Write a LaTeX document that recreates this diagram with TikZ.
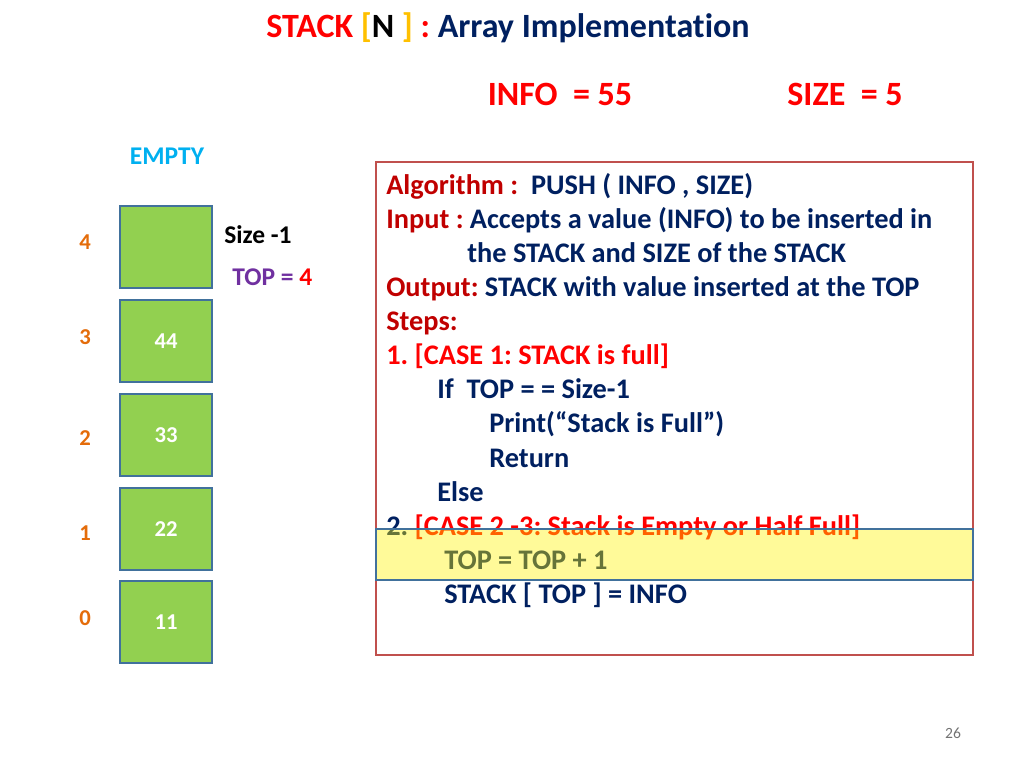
\documentclass[tikz,border=0pt]{standalone}
\usepackage{fontspec}
\setmainfont[Ligatures=NoCommon]{Carlito}
\frenchspacing
\usetikzlibrary{positioning}

\definecolor{navy}{HTML}{002060}
\definecolor{darkred}{HTML}{C00000}
\definecolor{brightred}{HTML}{FF0000}
\definecolor{gold}{HTML}{FFC000}
\definecolor{cellgreen}{HTML}{92D050}
\definecolor{cellborder}{HTML}{41719C}
\definecolor{framered}{HTML}{C0504D}
\definecolor{idxorange}{HTML}{E46C0A}
\definecolor{skyblue}{HTML}{00B0F0}
\definecolor{toppurple}{HTML}{7030A0}

\begin{document}
\begin{tikzpicture}[%
    x=0.0248cm, y=-0.0248cm,    % one unit = one pixel of the slide
    ]

\tikzset{
    txt/.style={inner sep=0pt, text=navy, font={\bfseries\fontsize{20}{24}\selectfont}},
    line/.style={txt, anchor=base west},
    head/.style={txt, anchor=base, text=brightred, font={\bfseries\fontsize{24}{29}\selectfont}},
    cell/.style={draw=cellborder, line width=1.6pt, fill=cellgreen, inner sep=0pt,
                 minimum width=2.27cm, minimum height=2.05cm,
                 text=white, font={\bfseries\fontsize{16}{19}\selectfont}},
    idx/.style={inner sep=0pt, text=idxorange, font={\bfseries\fontsize{16}{19}\selectfont}},
    note/.style={inner sep=0pt, anchor=base west, font={\bfseries\fontsize{18}{21}\selectfont}},
    frame/.style={draw=framered, line width=1.4pt},
    hilite/.style={draw=cellborder, line width=1.6pt, fill=yellow, fill opacity=0.4}
}

\useasboundingbox (0,0) rectangle (1024,768);

%% Title
\node [txt, anchor=base, font={\bfseries\fontsize{24}{29}\selectfont}] (title) at (508,38)
    {\textcolor{brightred}{STACK} \textcolor{gold}{[}\textcolor{black}{N} \textcolor{gold}{]} \textcolor{brightred}{:} Array Implementation};
\node [head] (info) at (560,106) {INFO~ = 55};
\node [head] (size) at (845,106) {SIZE~ = 5};

%% Stack cells
\node [note, anchor=base, text=skyblue] (empty) at (167,165) {EMPTY};
\node [cell] (c4) at (166,247) {};
\node [cell] (c3) at (166,341) {44};
\node [cell] (c2) at (166,435) {33};
\node [cell] (c1) at (166,529) {22};
\node [cell] (c0) at (166,622) {11};

\node [idx] (i4) at (85,242) {4};
\node [idx] (i3) at (85,337) {3};
\node [idx] (i2) at (85,438) {2};
\node [idx] (i1) at (85,533) {1};
\node [idx] (i0) at (85,618) {0};

\node [note, text=black] (sz) at (224,243) {Size -1};
\node [note, text=toppurple] (top) at (232,285) {TOP = \textcolor{brightred}{4}};

%% Algorithm
\draw [frame] (376,162) rectangle (973,655);
\node [line] (l1)  at (386,194) {\textcolor{darkred}{Algorithm :}\ \ PUSH ( INFO , SIZE)};
\node [line] (l2)  at (386,228) {\textcolor{darkred}{Input :} Accepts a value (INFO) to be inserted in};
\node [line] (l3)  at (467,262) {the STACK and SIZE of the STACK};
\node [line] (l4)  at (386,296) {\textcolor{darkred}{Output:} STACK with value inserted at the TOP};
\node [line, text=darkred] (l5)  at (386,330) {Steps:};
\node [line, text=brightred] (l6)  at (386,364) {1. [CASE 1: STACK is full]};
\node [line] (l7)  at (437,398) {If\ \ TOP = = Size-1};
\node [line] (l8)  at (489,432) {Print(“Stack is Full”)};
\node [line] (l9)  at (489,467) {Return};
\node [line] (l10) at (437,501) {Else};
\node [line] (l11) at (386,535) {2. \textcolor{brightred}{[CASE 2 -3: Stack is Empty or Half Full]}};
\node [line] (l12) at (444,569) {TOP = TOP + 1};
\node [line] (l13) at (444,603) {STACK [ TOP ] = INFO};

%% Highlight over the increment
\draw [hilite] (376,529) rectangle (973,580);

%% Page number
\node [inner sep=0pt, text=black!55, font={\fontsize{11}{13}\selectfont}] (page) at (953,733) {26};
\end{tikzpicture}
\end{document}
